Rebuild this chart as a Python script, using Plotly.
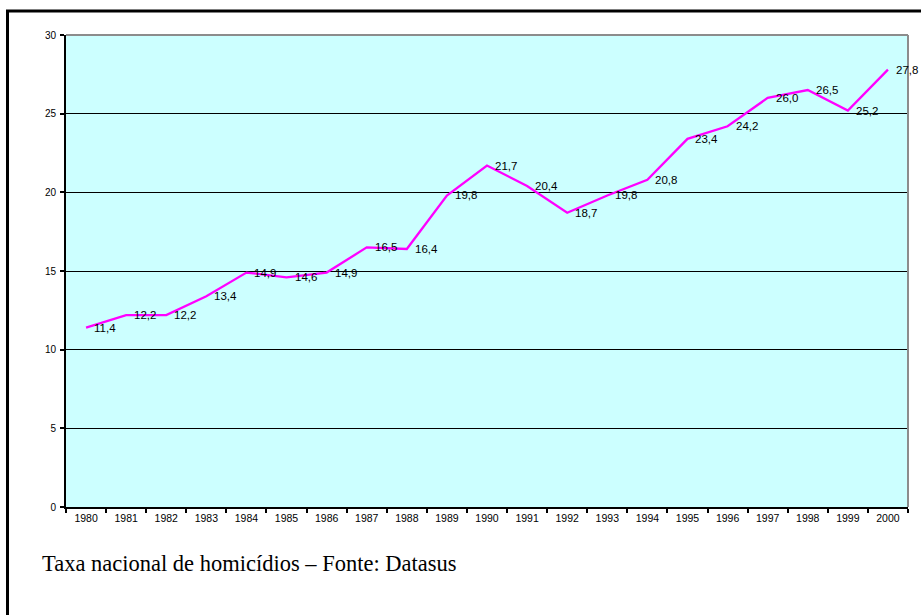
import plotly.graph_objects as go

years = [str(y) for y in range(1980, 2001)]
taxa = [11.4, 12.2, 12.2, 13.4, 14.9, 14.6, 14.9, 16.5, 16.4, 19.8, 21.7,
        20.4, 18.7, 19.8, 20.8, 23.4, 24.2, 26.0, 26.5, 25.2, 27.8]
y_ticks = [0, 5, 10, 15, 20, 25, 30]
caption = "Taxa nacional de homicídios – Fonte: Datasus"

labels = [f"{v:.1f}".replace(".", ",") for v in taxa]

W, H = 921, 615
L, R, T, B = 66, 13, 35, 108
pw, ph = W - L - R, H - T - B

def px_x(x):
    return (x - L) / pw

def px_y(y):
    return 1 - (y - T) / ph

fig = go.Figure()
fig.add_trace(go.Scatter(
    x=years, y=taxa, mode="lines",
    line=dict(color="#FF00FF", width=2.3),
    cliponaxis=False, showlegend=False, hoverinfo="x+y",
))

# category axis: annotations use category index
label_annots = [
    dict(x=i, y=v, xref="x", yref="y", text=t, showarrow=False,
         xanchor="left", yanchor="middle", xshift=6,
         font=dict(family="Liberation Sans, Arial", size=11.5, color="black"))
    for i, (v, t) in enumerate(zip(taxa, labels))
]

fig.update_layout(
    width=W, height=H,
    margin=dict(l=L, r=R, t=T, b=B),
    paper_bgcolor="white",
    plot_bgcolor="#CCFFFF",
    xaxis=dict(
        type="category", showgrid=False, zeroline=False,
        showline=True, linecolor="black", linewidth=2,
        ticks="outside", tickson="boundaries", ticklen=4, tickcolor="black", tickwidth=1.5,
        tickfont=dict(family="Liberation Sans, Arial", size=10.5, color="black"),
        range=[-0.5, 20.5],
    ),
    yaxis=dict(
        range=[0, 30], tickvals=y_ticks, showgrid=True, gridcolor="black", gridwidth=1,
        zeroline=False, showline=True, linecolor="black", linewidth=2,
        ticks="outside", ticklen=4, tickcolor="black", tickwidth=1.5,
        tickfont=dict(family="Liberation Sans, Arial", size=10, color="black"),
        ticklabelstandoff=2,
    ),
    shapes=[
        dict(type="line", xref="paper", yref="paper", x0=0, x1=1, y0=1, y1=1,
             line=dict(color="#8C8C8C", width=2), layer="above"),
        dict(type="line", xref="paper", yref="paper", x0=1, x1=1, y0=0, y1=1,
             line=dict(color="#8C8C8C", width=2), layer="above"),
        dict(type="line", xref="paper", yref="paper",
             x0=px_x(6), x1=px_x(925), y0=px_y(11), y1=px_y(11),
             line=dict(color="black", width=3), layer="above"),
        dict(type="line", xref="paper", yref="paper",
             x0=px_x(7.5), x1=px_x(7.5), y0=px_y(10), y1=px_y(620),
             line=dict(color="black", width=3), layer="above"),
    ],
    annotations=label_annots + [
        dict(text=caption, xref="paper", yref="paper", x=px_x(40), y=px_y(563),
             xanchor="left", yanchor="middle", showarrow=False,
             font=dict(family="Liberation Serif, Times New Roman", size=22.5, color="black")),
    ],
)

fig.write_html("out.html", config={"displayModeBar": False},
               post_script="document.body.style.margin='0';document.body.style.overflow='hidden';")
